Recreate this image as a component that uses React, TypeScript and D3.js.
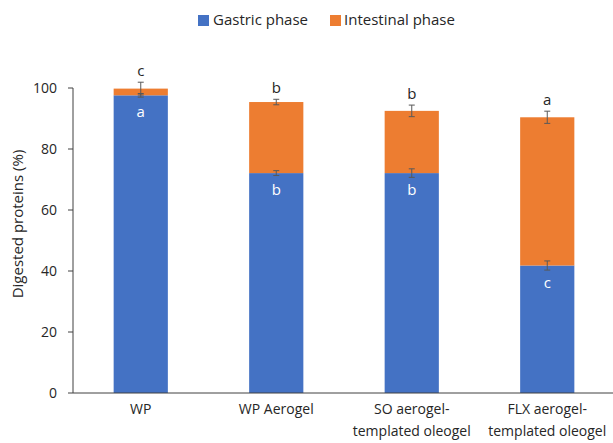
import React from "react";
import * as d3 from "d3";

const categories: string[][] = [
  ["WP"],
  ["WP Aerogel"],
  ["SO aerogel-", "templated oleogel"],
  ["FLX aerogel-", "templated oleogel"],
];
const gastric = [97.6, 72.1, 72.1, 41.8];
const intestinal = [2.2, 23.3, 20.4, 48.6];
const gastricErr = [0.6, 0.8, 1.4, 1.5];
const totalErr = [2.1, 0.9, 1.9, 2.0];
const gastricLetters = ["a", "b", "b", "c"];
const totalLetters = ["c", "b", "b", "a"];
const seriesNames = ["Gastric phase", "Intestinal phase"];
const yTicks = [0, 20, 40, 60, 80, 100];

const BLUE = "#4472C4";
const ORANGE = "#ED7D31";
const FONT = "'Open Sans', sans-serif";

export default function App() {
  const W = 613, H = 443;
  const x0 = 73, x1 = 615;
  const y = d3.scaleLinear().domain([0, 100]).range([393, 88]);
  const x = d3
    .scaleBand<number>()
    .domain(categories.map((_, i) => i))
    .range([x0, x1])
    .paddingInner(0.6)
    .paddingOuter(0.3);
  const bw = x.bandwidth();
  const errColor = "#595959";
  const cap = 3;

  const errBar = (cx: number, v: number, e: number, key: string) => (
    <g key={key} stroke={errColor} strokeWidth={1}>
      <line x1={cx} x2={cx} y1={y(v + e)} y2={y(v - e)} />
      <line x1={cx - cap} x2={cx + cap} y1={y(v + e)} y2={y(v + e)} />
      <line x1={cx - cap} x2={cx + cap} y1={y(v - e)} y2={y(v - e)} />
    </g>
  );

  return (
    <svg
      width={W}
      height={H}
      style={{ position: "absolute", left: 0, top: 0, background: "#fff" }}
      fontFamily={FONT}
    >
      {/* legend */}
      <g>
        <rect x={198} y={15} width={11} height={11} fill={BLUE} />
        <text x={213} y={25} fontSize={15} fill="#262626">{seriesNames[0]}</text>
        <rect x={330} y={15} width={11} height={11} fill={ORANGE} />
        <text x={344} y={25} fontSize={15} fill="#262626">{seriesNames[1]}</text>
      </g>

      {/* bars */}
      {categories.map((_, i) => {
        const bx = x(i)!;
        const total = gastric[i] + intestinal[i];
        return (
          <g key={"b" + i}>
            <rect x={bx} y={y(gastric[i])} width={bw} height={y(0) - y(gastric[i])} fill={BLUE} />
            <rect x={bx} y={y(total)} width={bw} height={y(gastric[i]) - y(total)} fill={ORANGE} />
          </g>
        );
      })}

      {/* error bars */}
      {categories.map((_, i) => {
        const cx = x(i)! + bw / 2;
        const total = gastric[i] + intestinal[i];
        return (
          <g key={"e" + i}>
            {errBar(cx, gastric[i], gastricErr[i], "g" + i)}
            {errBar(cx, total, totalErr[i], "t" + i)}
          </g>
        );
      })}

      {/* letters */}
      {categories.map((_, i) => {
        const cx = x(i)! + bw / 2;
        const total = gastric[i] + intestinal[i];
        return (
          <g key={"l" + i} fontSize={15} textAnchor="middle">
            <text x={cx} y={y(total + totalErr[i]) - 6} fill="#262626">{totalLetters[i]}</text>
            <text x={cx} y={y(gastric[i]) + 22} fill="#ffffff">{gastricLetters[i]}</text>
          </g>
        );
      })}

      {/* y axis */}
      <g>
        <line x1={x0} x2={x0} y1={y(100)} y2={y(0)} stroke="#404040" strokeWidth={1} />
        {yTicks.map((t) => (
          <g key={"t" + t}>
            <line x1={x0 - 5} x2={x0} y1={y(t)} y2={y(t)} stroke="#404040" />
            <text x={x0 - 16} y={y(t) + 5} fontSize={14} textAnchor="end" fill="#262626">
              {t}
            </text>
          </g>
        ))}
        <text
          transform={`translate(23,224) rotate(-90)`}
          fontSize={15}
          textAnchor="middle"
          fill="#262626"
        >
          Digested proteins (%)
        </text>
      </g>

      {/* x axis */}
      <line x1={x0} x2={W} y1={y(0)} y2={y(0)} stroke="#404040" strokeWidth={1} />
      {categories.map((lines, i) => {
        const cx = x(i)! + bw / 2;
        return (
          <text key={"x" + i} x={cx} y={414} fontSize={14} textAnchor="middle" fill="#262626">
            {lines.map((l, j) => (
              <tspan key={j} x={cx} dy={j === 0 ? 0 : 22}>
                {l}
              </tspan>
            ))}
          </text>
        );
      })}
    </svg>
  );
}
